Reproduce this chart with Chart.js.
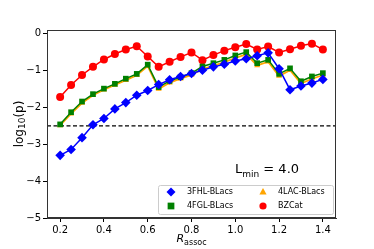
<!DOCTYPE html>
<html><head><meta charset="utf-8">
<script src="https://cdn.jsdelivr.net/npm/chart.js@4/dist/chart.umd.min.js"></script>
<style>html,body{margin:0;padding:0;background:#fff}#wrap{width:374px;height:249px}</style>
</head><body><div id="wrap"><canvas id="c" width="374" height="249"></canvas></div>
<script>
const rAssoc = [0.2,0.25,0.3,0.35,0.4,0.45,0.5,0.55,0.6,0.65,0.7,0.75,0.8,0.85,0.9,0.95,1.0,1.05,1.1,1.15,1.2,1.25,1.3,1.35,1.4];
const fhl3 = [-3.30,-3.14,-2.82,-2.47,-2.30,-2.04,-1.87,-1.67,-1.54,-1.38,-1.25,-1.16,-1.08,-0.99,-0.90,-0.83,-0.74,-0.68,-0.60,-0.52,-0.95,-1.52,-1.42,-1.34,-1.24];
const fgl4 = [-2.46,-2.13,-1.84,-1.64,-1.49,-1.36,-1.22,-1.09,-0.84,-1.45,-1.28,-1.18,-1.07,-0.89,-0.80,-0.71,-0.59,-0.50,-0.80,-0.71,-1.09,-0.94,-1.29,-1.16,-1.07];
const lac4 = [-2.49,-2.17,-1.88,-1.67,-1.52,-1.39,-1.26,-1.13,-0.88,-1.50,-1.33,-1.22,-1.12,-0.96,-0.87,-0.77,-0.66,-0.56,-0.86,-0.76,-1.15,-0.99,-1.35,-1.23,-1.12];
const bzcat = [-1.72,-1.39,-1.12,-0.90,-0.70,-0.55,-0.43,-0.34,-0.62,-0.90,-0.76,-0.63,-0.51,-0.72,-0.58,-0.46,-0.37,-0.28,-0.43,-0.35,-0.51,-0.42,-0.33,-0.27,-0.43];
const seriesNames = ['3FHL-BLacs','4FGL-BLacs','4LAC-BLacs','BZCat'];
const xTicks = [0.2,0.4,0.6,0.8,1.0,1.2,1.4];
const yTicks = [-5,-4,-3,-2,-1,0];
const threshold = -2.5;
const lminText = '4.0';

const FONT = "'DejaVu Sans', sans-serif";
function pts(ys){ return rAssoc.map((x,i)=>({x:x,y:ys[i]})); }
function mk(label, ys, color, style, r, bw){
  return {label:label, data:pts(ys), borderColor:color, backgroundColor:color, pointStyle:style,
    pointRadius:r, pointHoverRadius:r, borderWidth:bw, pointBorderWidth:0, fill:false, tension:0};
}
const datasets = [
  mk(seriesNames[0], fhl3, '#0000ff', 'rectRot', 4.8, 1.5),
  mk(seriesNames[1], fgl4, '#008000', 'rect', 4, 1.5),
  mk(seriesNames[2], lac4, '#ffa500', 'triangle', 3.5, 1.8),
  mk(seriesNames[3], bzcat, '#ff0000', 'circle', 4, 1.5)
];

function drawMarker(ctx, style, x, y, r, color){
  ctx.save(); ctx.fillStyle = color; ctx.beginPath();
  if(style==='rectRot'){ ctx.moveTo(x,y-r); ctx.lineTo(x+r,y); ctx.lineTo(x,y+r); ctx.lineTo(x-r,y); ctx.closePath(); }
  else if(style==='rect'){ ctx.rect(x-r*0.75,y-r*0.75,r*1.5,r*1.5); }
  else if(style==='triangle'){ ctx.moveTo(x,y-r); ctx.lineTo(x+r*0.9,y+r*0.6); ctx.lineTo(x-r*0.9,y+r*0.6); ctx.closePath(); }
  else { ctx.arc(x,y,r*0.8,0,Math.PI*2); }
  ctx.fill(); ctx.restore();
}

const deco = {
  id:'deco',
  beforeDatasetsDraw(chart){
    const ctx = chart.ctx, a = chart.chartArea, ys = chart.scales.y;
    const yy = ys.getPixelForValue(threshold);
    ctx.save(); ctx.strokeStyle='#000'; ctx.lineWidth=1.3; ctx.setLineDash([4,2.5]);
    ctx.beginPath(); ctx.moveTo(a.left,yy); ctx.lineTo(a.right,yy); ctx.stroke(); ctx.restore();
  },
  afterDraw(chart){
    const ctx = chart.ctx, a = chart.chartArea;
    ctx.save();
    ctx.strokeStyle='#333'; ctx.lineWidth=1; ctx.strokeRect(a.left+0.5,a.top+0.5,a.right-a.left-1,a.bottom-a.top-1);
    ctx.fillStyle='#000';
    ctx.save(); ctx.translate(20,(a.top+a.bottom)/2); ctx.rotate(-Math.PI/2);
    ctx.textBaseline='middle';
    const p1='log', p2='10', p3='(p)';
    ctx.font='12px '+FONT; const w1=ctx.measureText(p1).width, w3=ctx.measureText(p3).width;
    ctx.font='9px '+FONT; const w2=ctx.measureText(p2).width;
    let sx=-(w1+w2+w3)/2;
    ctx.textAlign='left';
    ctx.font='12px '+FONT; ctx.fillText(p1,sx,0);
    ctx.font='9px '+FONT; ctx.fillText(p2,sx+w1,3);
    ctx.font='12px '+FONT; ctx.fillText(p3,sx+w1+w2,0);
    ctx.restore();
    ctx.textBaseline='alphabetic'; ctx.textAlign='left';
    ctx.font='italic 11px '+FONT; const rw=ctx.measureText('R').width;
    ctx.font='8px '+FONT; const aw=ctx.measureText('assoc').width;
    let cx=(a.left+a.right)/2-(rw+aw)/2;
    ctx.font='italic 11px '+FONT; ctx.fillText('R',cx,242);
    ctx.font='8px '+FONT; ctx.fillText('assoc',cx+rw,245);
    ctx.font='13px '+FONT; const lw=ctx.measureText('L').width;
    ctx.fillText('L',235,173);
    ctx.font='9px '+FONT; const mw=ctx.measureText('min').width;
    ctx.fillText('min',235+lw,177);
    ctx.font='13px '+FONT; ctx.fillText(' = '+lminText,235+lw+mw,173);
    const bx=158, by=185, bw=175, bh=29;
    ctx.fillStyle='rgba(255,255,255,0.85)'; ctx.strokeStyle='#cccccc'; ctx.lineWidth=1;
    ctx.beginPath(); ctx.roundRect(bx+0.5,by+0.5,bw,bh,2); ctx.fill(); ctx.stroke();
    const pos=[[171,192],[171,206],[263,192],[263,206]];
    const txs=[187,187,278,278];
    chart.data.datasets.forEach((d,i)=>{
      drawMarker(ctx,d.pointStyle,pos[i][0],pos[i][1],d.pointStyle==='triangle'?4:4.5,d.borderColor);
      ctx.fillStyle='#000'; ctx.font='8px '+FONT; ctx.textBaseline='middle';
      ctx.fillText(d.label,txs[i],pos[i][1]);
    });
    ctx.restore();
  }
};

new Chart(document.getElementById('c'),{
  type:'line',
  data:{datasets:datasets},
  options:{
    responsive:false, animation:false, devicePixelRatio:1,
    layout:{padding:{top:30,right:38,left:0,bottom:0}},
    plugins:{legend:{display:false},tooltip:{enabled:false}},
    scales:{
      x:{type:'linear',min:0.14,max:1.46,
        afterBuildTicks(s){ s.ticks = xTicks.map(v=>({value:v})); },
        afterFit(s){ s.height=31; },
        grid:{display:true,drawOnChartArea:false,drawTicks:true,tickLength:4,color:'#000'},
        border:{display:true,color:'#333'},
        ticks:{color:'#000',font:{family:FONT,size:10},padding:2,maxRotation:0,
          callback:(v)=>Number(v).toFixed(1)}
      },
      y:{type:'linear',min:-5,max:0.1,
        afterBuildTicks(s){ s.ticks = yTicks.map(v=>({value:v})); },
        afterFit(s){ s.width=47; },
        grid:{display:true,drawOnChartArea:false,drawTicks:true,tickLength:4,color:'#000'},
        border:{display:true,color:'#333'},
        ticks:{color:'#000',font:{family:FONT,size:10},padding:2,
          callback:(v)=> v<0 ? '\u2212'+Math.abs(v) : String(v)}
      }
    }
  },
  plugins:[deco]
});
</script>
</body></html>
